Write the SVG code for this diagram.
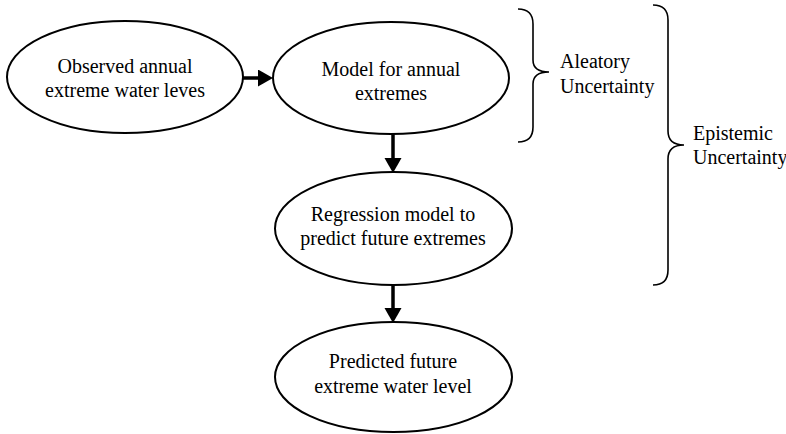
<svg xmlns="http://www.w3.org/2000/svg" width="786" height="434" viewBox="0 0 786 434">
<style>
.node{fill:#fff;stroke:#000;stroke-width:2}
.t{font-family:"Liberation Serif","Times New Roman",serif;font-size:20px;fill:#000}
.c{text-anchor:middle}
.conn{stroke:#000;stroke-width:3.5;fill:none}
.brace{stroke:#000;stroke-width:1.6;fill:none}
</style>
<defs>
<marker id="ah" markerUnits="userSpaceOnUse" markerWidth="16" markerHeight="18" refX="0" refY="8.5" orient="auto">
<path d="M0,0 L15,8.5 L0,17 z" fill="#000"/>
</marker>
</defs>
<rect width="786" height="434" fill="#fff"/>
<g id="connectors">
<line class="conn" x1="243" y1="78" x2="258" y2="78" marker-end="url(#ah)"/>
<line class="conn" x1="393" y1="134" x2="393" y2="158" marker-end="url(#ah)"/>
<line class="conn" x1="393" y1="285" x2="393" y2="308" marker-end="url(#ah)"/>
</g>
<g id="observed">
<ellipse class="node" cx="125" cy="77" rx="118" ry="56"/>
<text class="t c" x="125" y="73">Observed annual</text>
<text class="t c" x="125" y="97">extreme water leves</text>
</g>
<g id="model">
<ellipse class="node" cx="391" cy="78" rx="118" ry="56"/>
<text class="t c" x="391" y="76">Model for annual</text>
<text class="t c" x="391" y="100">extremes</text>
</g>
<g id="regression">
<ellipse class="node" cx="393.5" cy="228.5" rx="118.5" ry="56.5"/>
<text class="t c" x="393" y="221">Regression model to</text>
<text class="t c" x="393" y="245">predict future extremes</text>
</g>
<g id="predicted">
<ellipse class="node" cx="393.5" cy="377" rx="118.5" ry="55"/>
<text class="t c" x="393" y="368">Predicted future</text>
<text class="t c" x="393" y="393">extreme water level</text>
</g>
<g id="aleatory">
<path class="brace" d="M518,9 Q533,9 533,24 L533,60 Q533,72 549,72 Q533,72 533,84 L533,127 Q533,142 518,142"/>
<text class="t" x="560" y="68">Aleatory</text>
<text class="t" x="560" y="93">Uncertainty</text>
</g>
<g id="epistemic">
<path class="brace" d="M653,5 Q668,5 668,20 L668,131 Q668,145 684,145 Q668,145 668,159 L668,270 Q668,285 653,285"/>
<text class="t" x="693" y="140">Epistemic</text>
<text class="t" x="693" y="164">Uncertainty</text>
</g>
</svg>
